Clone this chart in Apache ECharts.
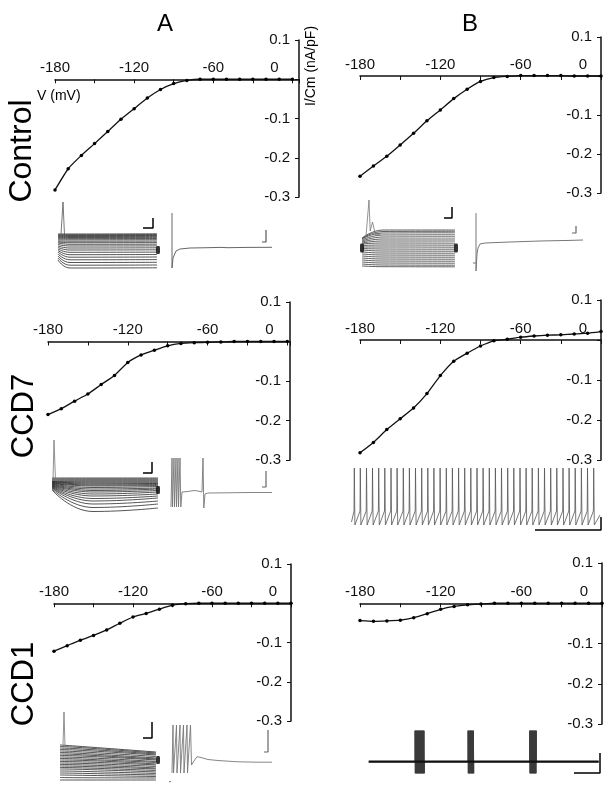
<!DOCTYPE html>
<html><head><meta charset="utf-8">
<script src="https://cdn.jsdelivr.net/npm/echarts/dist/echarts.min.js"></script>
<style>html,body{margin:0;padding:0;background:#fff}#c{width:614px;height:795px}</style>
</head><body><div id="c"></div>
<script>
// ---------- I-V data (mV, nA/pF) ----------
const voltage = [-180,-170,-160,-150,-140,-130,-120,-110,-100,-90,-80,-70,-60,-50,-40,-30,-20,-10,0];
const xTickLabels = [-180,-120,-60,0];
const yTickLabels = [0.1,-0.1,-0.2,-0.3];
const ivControlA = [-0.282,-0.228,-0.194,-0.164,-0.133,-0.102,-0.075,-0.048,-0.026,-0.011,-0.003,0,0,0,0,0,0,0,0];
const ivControlB = [-0.257,-0.231,-0.206,-0.177,-0.147,-0.115,-0.087,-0.058,-0.034,-0.014,-0.004,-0.001,0.001,0.001,0.001,0.001,0,0,0];
const ivCCD7A = [-0.185,-0.170,-0.151,-0.133,-0.109,-0.086,-0.053,-0.034,-0.022,-0.011,-0.005,-0.003,-0.002,-0.001,0,0,0,0,0];
const ivCCD7B = [-0.282,-0.256,-0.224,-0.197,-0.170,-0.134,-0.089,-0.053,-0.033,-0.015,-0.002,0.002,0.007,0.010,0.012,0.013,0.015,0.017,0.021];
const ivCCD1A = [-0.122,-0.108,-0.094,-0.082,-0.068,-0.051,-0.035,-0.026,-0.015,-0.005,-0.001,0,0,0,0,0,0,0,0];
const ivCCD1B = [-0.043,-0.045,-0.044,-0.042,-0.036,-0.026,-0.015,-0.008,-0.004,-0.002,0,0,0,0,0,0,0,0,0];

// ---------- current-trace families (ms, pA) ----------
const famCtrlATimes = [30,150,1020];
const famCtrlAStart = [-360,-368,-376,-385,-395,-406,-418,-430,-440,-450,-465,-480,-495,-510,-525,-540,-560,-580,-600,-620];
const famCtrlALevel = [-360,-368,-376,-385,-395,-406,-418,-432,-447,-463,-480,-500,-520,-543,-567,-592,-618,-645,-672,-700];
const famCtrlAEnd   = [-358,-366,-375,-384,-394,-405,-417,-431,-446,-462,-479,-498,-518,-541,-565,-590,-616,-643,-670,-698];
const ctrlASpike = [[60,-360],[80,-40],[95,-370]];
const ctrlAMarker = [[1030,-520]];
const ctrlABar = [[880,-300],[980,-300],[980,-200]];
const ctrlASingle = [[40,-150],[40,-700],[50,-600],[80,-530],[120,-510],[220,-500],[400,-497],[520,-494],[600,-497],[800,-494],[1040,-493]];
const ctrlASingleBar = [[940,-440],[980,-440],[980,-320]];

const famCtrlBTimes = [70,280,1000];
const famCtrlBStart = [-400,-405,-410,-420,-430,-440,-450,-460,-475,-490,-505,-520,-540,-560,-580,-600,-620,-640,-660,-680];
const famCtrlBLevel = [-320,-335,-350,-370,-390,-410,-430,-450,-470,-490,-510,-530,-550,-570,-590,-610,-630,-650,-670,-687];
const famCtrlBEnd   = [-320,-333,-348,-368,-388,-410,-430,-452,-472,-492,-512,-532,-552,-572,-592,-612,-632,-652,-672,-688];
const ctrlBSpike = [[110,-380],[140,-20],[152,-330],[175,-240],[205,-370],[260,-360]];
const ctrlBMarker = [[70,-500],[1010,-500]];
const ctrlBBar = [[890,-200],[970,-200],[970,-90]];
const ctrlBTick = [[30,-650],[60,-650]];
const ctrlBSingle = [[60,-150],[60,-730],[70,-560],[80,-500],[100,-460],[150,-450],[400,-440],[700,-430],[1000,-424],[1130,-420]];
const ctrlBSingleBar = [[1020,-350],[1060,-350],[1060,-280]];

const famCCD7ATimes = [40,450,1100];
const famCCD7AStart = [-400,-410,-420,-430,-435,-440,-445,-450,-455,-460,-465,-470,-475,-480,-485,-490,-495,-500,-510,-520];
const famCCD7ALevel = [-400,-410,-420,-430,-440,-450,-460,-470,-480,-495,-510,-525,-540,-560,-580,-605,-630,-660,-695,-735];
const famCCD7AEnd   = [-400,-410,-420,-430,-440,-450,-455,-465,-475,-485,-500,-510,-525,-540,-560,-580,-600,-630,-660,-700];
const ccd7ASpike = [[50,-420],[60,-20],[75,-430]];
const ccd7AMarker = [[1100,-520]];
const ccd7ABar = [[950,-350],[1040,-350],[1040,-240]];
const ccd7ASingle = [[30,-690],[40,-200],[45,-690],[60,-200],[65,-690],[80,-200],[85,-690],[100,-200],[105,-690],[120,-200],[128,-690],[140,-540],[200,-535],[260,-525],[280,-520],[300,-530],[340,-540],[350,-200],[358,-700],[370,-560],[400,-550],[600,-548],[800,-545],[1040,-545]];
const ccd7ASingleBar = [[940,-490],[980,-490],[980,-330]];

// spontaneous firing (ms, mV)
const ccd7BSpikeTimes = [40,100,162,222,284,345,407,468,530,591,652,714,775,836,898,960,1021,1083,1144,1205,1267,1328,1390,1451,1512,1574,1635,1697,1758,1819,1881,1942,2004,2065,2127,2188,2249,2311,2372,2434];
const ccd7BThreshold = -11, ccd7BPeak = 32, ccd7BTrough = -25;
const ccd7BBar = [[1850,-30],[2510,-30],[2510,-17]];

const famCCD1ATimes = [50,200,1010];
const famCCD1AStart = [-400,-415,-430,-445,-460,-475,-490,-505,-520,-535,-550,-565,-580,-595,-610,-625,-640,-660,-680,-700,-725,-750];
const famCCD1ALevel = [-410,-422,-436,-450,-465,-480,-494,-508,-523,-538,-552,-567,-582,-597,-612,-627,-642,-662,-682,-702,-727,-750];
const famCCD1AEnd   = [-470,-480,-490,-500,-515,-530,-540,-550,-565,-575,-590,-600,-615,-630,-640,-655,-670,-685,-700,-715,-730,-750];
const ccd1ASpike = [[80,-400],[90,-70],[100,-410]];
const ccd1AMarker = [[1030,-550]];
const ccd1ABar = [[880,-330],[970,-330],[970,-170]];
const ccd1ATick = [[10,-767],[30,-767]];
const ccd1ASingle = [[40,-680],[50,-200],[55,-680],[85,-200],[90,-680],[120,-200],[125,-680],[155,-200],[160,-680],[190,-200],[195,-680],[225,-200],[235,-600],[260,-560],[290,-517],[330,-525],[400,-545],[500,-555],[600,-562],[700,-568],[800,-570],[900,-572],[1040,-572]];
const ccd1ASingleBar = [[960,-470],[1000,-470],[1000,-250]];

const ccd1BBaseline = -41.7, ccd1BBurstTop = -10.7, ccd1BBurstBottom = -53.3;
const ccd1BStart = 87, ccd1BEnd = 2387;
const ccd1BBursts = [[550,643],[1080,1137],[1697,1763]];
const ccd1BBar = [[2140,-53],[2400,-53],[2400,-33]];

// ---------- chart building ----------
const FONT = '"Liberation Sans", Arial, Helvetica, sans-serif';
const grids = [], xAxes = [], yAxes = [], series = [];
const Y_MIN = -0.3, Y_MAX = 0.1;

function ivPanel(box, xmax, values) {
  const gi = grids.length;
  grids.push({left: box[0], top: box[1], width: box[2], height: box[3]});
  const zeroOffset = -box[3] * (Y_MAX / (Y_MAX - Y_MIN));
  xAxes.push({gridIndex: gi, type: 'value', position: 'top', offset: zeroOffset, min: -180, max: xmax, interval: 30,
    axisLine: {onZero: false, lineStyle: {color: '#111', width: 1.5}},
    axisTick: {inside: true, length: 4, lineStyle: {color: '#111', width: 1}},
    axisLabel: {margin: 4, fontSize: 15, fontFamily: FONT, color: '#111', hideOverlap: false,
      formatter: v => (xTickLabels.indexOf(v) >= 0 ? (v === 0 ? '{z|0}' : String(v)) : ''),
      rich: {z: {padding: [0, 36, 0, 0], fontSize: 15, fontFamily: FONT, color: '#111'}}},
    splitLine: {show: false}});
  yAxes.push({gridIndex: gi, type: 'value', position: 'right', min: Y_MIN, max: Y_MAX, interval: 0.1,
    axisLine: {show: true, onZero: false, lineStyle: {color: '#111', width: 1.5}},
    axisTick: {show: true, inside: true, length: 4, lineStyle: {color: '#111', width: 1}},
    axisLabel: {inside: true, margin: 9, fontSize: 15, fontFamily: FONT, color: '#111',
      formatter: v => { const r = Math.round(v * 10) / 10; return yTickLabels.indexOf(r) >= 0 ? r.toFixed(1) : ''; }},
    splitLine: {show: false}});
  series.push({type: 'line', xAxisIndex: gi, yAxisIndex: gi,
    data: voltage.map((v, i) => [v, values[i]]), symbol: 'circle', symbolSize: 3.5, showSymbol: true,
    itemStyle: {color: '#000'}, lineStyle: {color: '#111', width: 1.3}, smooth: 0.15, silent: true});
}

function traceGrid(box, xr, yr) {
  const gi = grids.length;
  grids.push({left: box[0], top: box[1], width: box[2], height: box[3]});
  xAxes.push({gridIndex: gi, type: 'value', min: xr[0], max: xr[1], show: false});
  yAxes.push({gridIndex: gi, type: 'value', min: yr[0], max: yr[1], show: false});
  return gi;
}
function line(gi, data, color, width, smooth, opacity) {
  series.push({type: 'line', xAxisIndex: gi, yAxisIndex: gi, data: data, symbol: 'none', showSymbol: false,
    smooth: smooth || false, lineStyle: {color: color, width: width, opacity: opacity == null ? 1 : opacity}, silent: true});
}
function marker(gi, data, size) {
  series.push({type: 'scatter', xAxisIndex: gi, yAxisIndex: gi, data: data, symbol: 'roundRect', symbolSize: size,
    itemStyle: {color: '#000'}, silent: true});
}
function family(gi, times, start, level, end, color) {
  for (let i = 0; i < level.length; i++) {
    line(gi, [[times[0], start[i]], [times[1], level[i]], [times[2], end[i]]], color, 0.8, 0.5, 0.9);
  }
}

// IV panels
ivPanel([55, 40, 244, 157], 5, ivControlA);
ivPanel([360, 37, 241, 156], 0, ivControlB);
ivPanel([48, 302, 242, 158], 2, ivCCD7A);
ivPanel([360, 300, 241, 160], 0, ivCCD7B);
ivPanel([54, 564, 237, 157], 0, ivCCD1A);
ivPanel([360, 563, 242, 161], 0, ivCCD1B);

// Row 1 traces
let g = traceGrid([55, 198, 105, 74], [0, 1050], [-740, 0]);
family(g, famCtrlATimes, famCtrlAStart, famCtrlALevel, famCtrlAEnd, '#111');
line(g, ctrlASpike, '#555', 0.8);
marker(g, ctrlAMarker, [4, 8]);
line(g, ctrlABar, '#000', 1.5);
g = traceGrid([168, 198, 108, 74], [0, 1080], [-740, 0]);
line(g, ctrlASingle, '#666', 1);
line(g, ctrlASingleBar, '#555', 1.2);

g = traceGrid([355, 198, 105, 74], [0, 1050], [-740, 0]);
family(g, famCtrlBTimes, famCtrlBStart, famCtrlBLevel, famCtrlBEnd, '#222');
line(g, ctrlBSpike, '#777', 0.8);
marker(g, ctrlBMarker, [4, 9]);
line(g, ctrlBBar, '#000', 1.5);
g = traceGrid([470, 198, 120, 74], [0, 1200], [-740, 0]);
line(g, ctrlBTick, '#777', 1);
line(g, ctrlBSingle, '#777', 1);
line(g, ctrlBSingleBar, '#666', 1.2);

// Row 2 traces
g = traceGrid([48, 438, 114, 80], [0, 1140], [-800, 0]);
family(g, famCCD7ATimes, famCCD7AStart, famCCD7ALevel, famCCD7AEnd, '#111');
line(g, ccd7ASpike, '#777', 0.8);
marker(g, ccd7AMarker, [4, 8]);
line(g, ccd7ABar, '#000', 1.5);
g = traceGrid([168, 438, 108, 80], [0, 1080], [-800, 0]);
line(g, ccd7ASingle, '#777', 0.9);
line(g, ccd7ASingleBar, '#666', 1.2);

g = traceGrid([350, 460, 255, 75], [0, 2550], [-35, 40]);
const trainPath = [[15, -22]];
ccd7BSpikeTimes.forEach(t => { trainPath.push([t, ccd7BThreshold], [t + 3, ccd7BPeak], [t + 9, ccd7BTrough]); });
trainPath.push([2500, -15]);
line(g, trainPath, '#555', 0.8);
line(g, ccd7BBar, '#000', 1.5);

// Row 3 traces
g = traceGrid([55, 705, 107, 80], [0, 1070], [-800, 0]);
family(g, famCCD1ATimes, famCCD1AStart, famCCD1ALevel, famCCD1AEnd, '#111');
line(g, ccd1ASpike, '#777', 0.8);
marker(g, ccd1AMarker, [4, 8]);
line(g, ccd1ABar, '#000', 1.5);
g = traceGrid([168, 705, 108, 80], [0, 1080], [-800, 0]);
line(g, ccd1ATick, '#777', 1);
line(g, ccd1ASingle, '#777', 0.9);
line(g, ccd1ASingleBar, '#666', 1.2);

g = traceGrid([360, 720, 245, 62], [0, 2450], [-62, 0]);
const burstPath = [[ccd1BStart, ccd1BBaseline]];
ccd1BBursts.forEach(b => {
  burstPath.push([b[0], ccd1BBaseline]);
  let up = true;
  for (let t = b[0]; t <= b[1]; t += 3) { burstPath.push([t, up ? ccd1BBurstTop : ccd1BBurstBottom]); up = !up; }
  burstPath.push([b[1], ccd1BBaseline]);
});
burstPath.push([ccd1BEnd, ccd1BBaseline]);
line(g, burstPath, '#3a3a3a', 1);
line(g, [[ccd1BStart, ccd1BBaseline], [ccd1BEnd, ccd1BBaseline]], '#111', 2.2);
line(g, ccd1BBar, '#000', 1.5);

const txt = (x, y, text, size, rot, align) => ({type: 'text', x: x, y: y, rotation: rot || 0,
  style: {text: text, font: size + 'px ' + FONT, fill: '#000', align: align || 'center', verticalAlign: 'middle',
          textAlign: align || 'center', textVerticalAlign: 'middle'}});

const chart = echarts.init(document.getElementById('c'), null, {renderer: 'canvas'});
chart.setOption({
  animation: false,
  backgroundColor: '#fff',
  grid: grids, xAxis: xAxes, yAxis: yAxes, series: series,
  graphic: [
    txt(165, 24, 'A', 24),
    txt(470, 24, 'B', 24),
    txt(22, 151, 'Control', 32, Math.PI / 2),
    txt(24, 416, 'CCD7', 31, Math.PI / 2),
    txt(24, 684, 'CCD1', 31, Math.PI / 2),
    txt(37, 96, 'V (mV)', 14, 0, 'left'),
    txt(311, 66, 'I/Cm (nA/pF)', 14, Math.PI / 2)
  ]
});
</script>
</body></html>
